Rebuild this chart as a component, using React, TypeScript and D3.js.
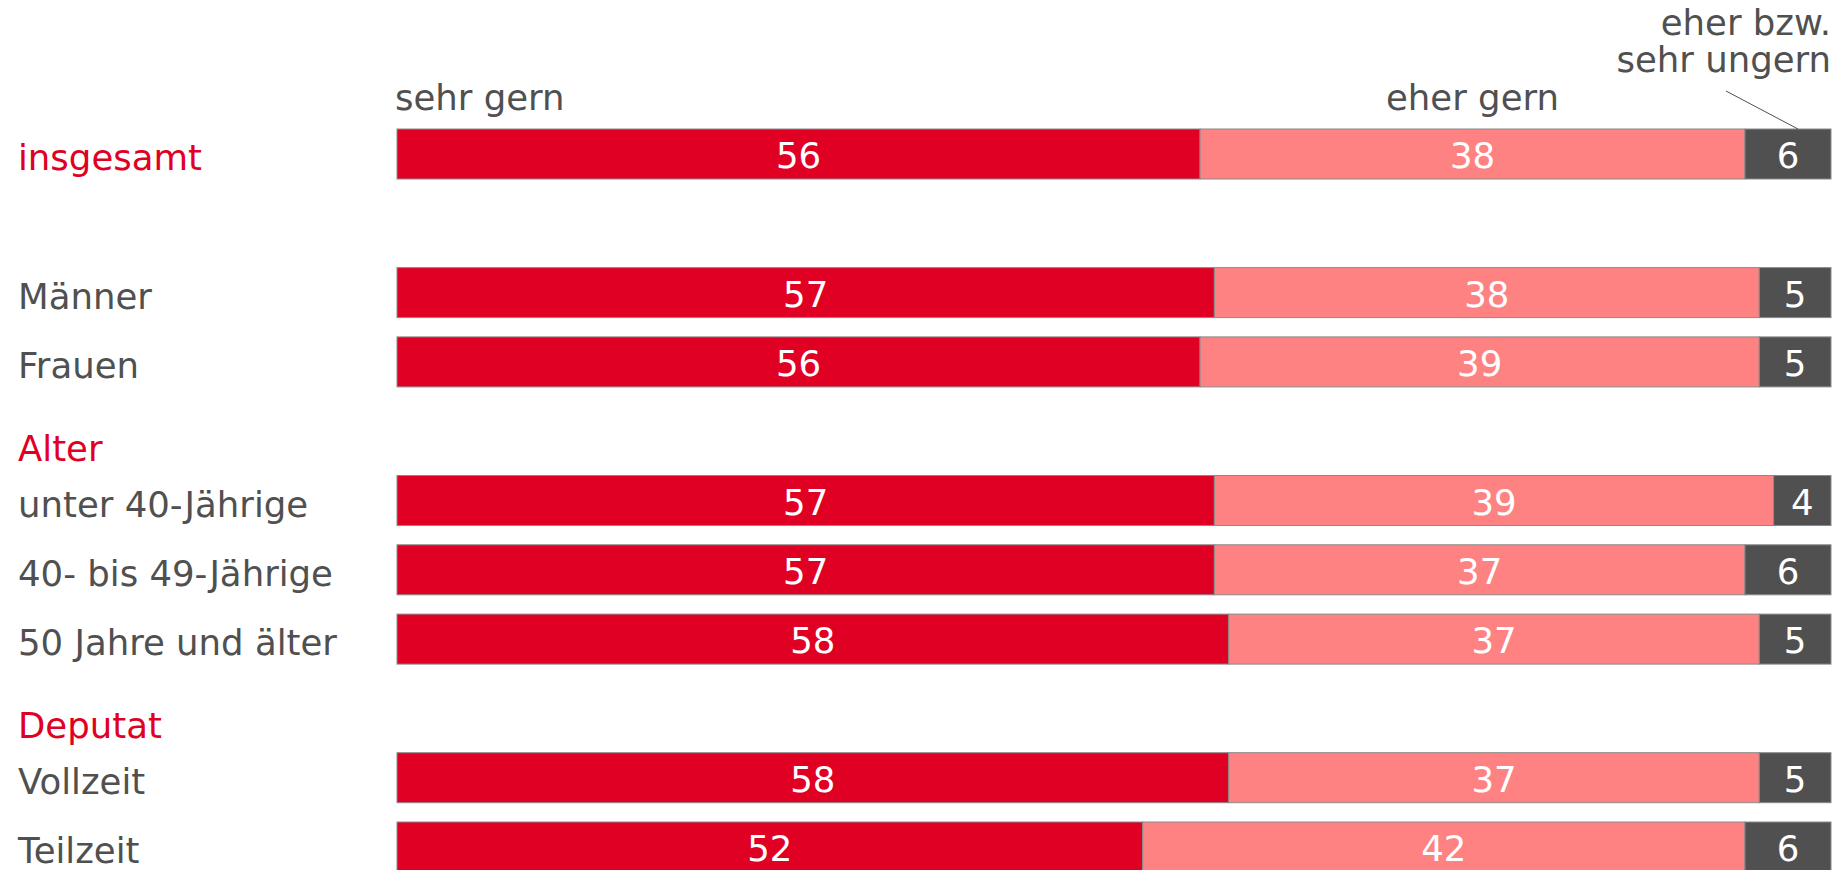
import React from "react";
import * as d3 from "d3";

const rowOrder = [
  "insgesamt",
  "_gap",
  "Männer",
  "Frauen",
  "Alter",
  "unter 40-Jährige",
  "40- bis 49-Jährige",
  "50 Jahre und älter",
  "Deputat",
  "Vollzeit",
  "Teilzeit",
];
const headers = ["Alter", "Deputat"];
const categories = [
  "insgesamt",
  "Männer",
  "Frauen",
  "unter 40-Jährige",
  "40- bis 49-Jährige",
  "50 Jahre und älter",
  "Vollzeit",
  "Teilzeit",
];
const sehrGern = [56, 57, 56, 57, 57, 58, 58, 52];
const eherGern = [38, 38, 39, 39, 37, 37, 37, 42];
const ungern = [6, 5, 5, 4, 6, 5, 5, 6];
const seriesNames = ["sehr gern", "eher gern", "eher bzw. sehr ungern"];
const colors = ["#E00024", "#FF8282", "#505050"];

const W = 1845;
const H = 870;
const FONT = "'DejaVu Sans', Verdana, sans-serif";
const TEXT = "#505050";
const RED = "#E00024";
const FS = 35.5;

export default function App() {
  const x = d3.scaleLinear().domain([0, 100]).range([397, 1831]);
  const y = d3.scalePoint().domain(rowOrder).range([154, 847]);
  const barH = 50;
  const series = [sehrGern, eherGern, ungern];
  const data = categories.map((c, i) => ({ cat: c, vals: series.map((s) => s[i]) }));
  const stack = d3
    .stack<any>()
    .keys([0, 1, 2] as any)
    .value((d: any, k: any) => d.vals[k]);
  const stacked = stack(data as any);

  const first = data[0];
  const cumFirst = stacked.map((s) => s[0]);

  return (
    <svg
      width={W}
      height={H}
      style={{ position: "absolute", left: 0, top: 0, background: "#fff" }}
      fontFamily={FONT}
    >
      {categories.map((c, i) => (
        <text
          key={c}
          x={18}
          y={(y(c) as number) + 16}
          fontSize={FS}
          fill={i === 0 ? RED : TEXT}
        >
          {c}
        </text>
      ))}
      {headers.map((h) => (
        <text key={h} x={18} y={(y(h) as number) + 30} fontSize={FS} fill={RED}>
          {h}
        </text>
      ))}
      {stacked.map((s, k) => (
        <g key={k}>
          {s.map((seg: any, i: number) => {
            const cy = y(data[i].cat) as number;
            const x0 = x(seg[0]);
            const x1 = x(seg[1]);
            return (
              <g key={i}>
                <rect
                  x={x0}
                  y={cy - barH / 2}
                  width={x1 - x0}
                  height={barH}
                  fill={colors[k]}
                  stroke="#8a8a8a"
                  strokeWidth={1}
                />
                <text
                  x={(x0 + x1) / 2}
                  y={cy + 14}
                  textAnchor="middle"
                  fontSize={FS}
                  fill="#fff"
                >
                  {data[i].vals[k]}
                </text>
              </g>
            );
          })}
        </g>
      ))}
      <text x={x(cumFirst[0][0]) - 2} y={110} fontSize={FS} fill={TEXT}>
        {seriesNames[0]}
      </text>
      <text
        x={(x(cumFirst[1][0]) + x(cumFirst[1][1])) / 2}
        y={110}
        textAnchor="middle"
        fontSize={FS}
        fill={TEXT}
      >
        {seriesNames[1]}
      </text>
      <text x={x(100)} y={35} textAnchor="end" fontSize={FS} fill={TEXT}>
        eher bzw.
      </text>
      <text x={x(100)} y={72} textAnchor="end" fontSize={FS} fill={TEXT}>
        sehr ungern
      </text>
      <line
        x1={1726}
        y1={91}
        x2={(x(cumFirst[2][0]) + x(cumFirst[2][1])) / 2 + 10}
        y2={(y(first.cat) as number) - barH / 2}
        stroke="#505050"
        strokeWidth={1}
      />
    </svg>
  );
}
